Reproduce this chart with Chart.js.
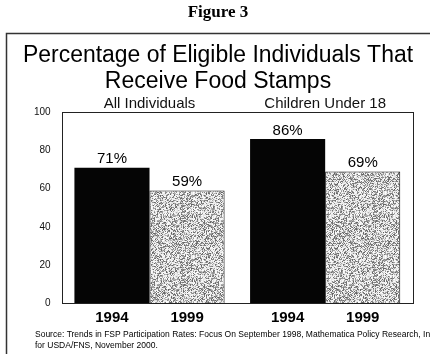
<!DOCTYPE html>
<html>
<head>
<meta charset="utf-8">
<script src="https://cdn.jsdelivr.net/npm/chart.js@4.4.1/dist/chart.umd.min.js"></script>
<style>
  body { margin: 0; background: #fff; }
  #wrap { width: 430px; height: 354px; position: relative; }
</style>
</head>
<body>
<div id="wrap"><canvas id="foodChart" width="430" height="354"></canvas></div>
<script>
// Dati
const groups = ['All Individuals', 'Children Under 18'];
const years = ['1994', '1999'];
const rate1994 = [71, 86];
const rate1999 = [59, 69];
const figureLabel = 'Figure 3';
const titleLines = ['Percentage of Eligible Individuals That', 'Receive Food Stamps'];
const sourceLines = [
    'Source: Trends in FSP Participation Rates: Focus On September 1998, Mathematica Policy Research, Inc',
    'for USDA/FNS, November 2000.'
];

// Texture puntinata per le barre 1999 (generatore deterministico)
function makeStipple() {
    const size = 64;
    const c = document.createElement('canvas');
    c.width = size; c.height = size;
    const g = c.getContext('2d');
    const img = g.createImageData(size, size);
    let seed = 12345;
    const rnd = () => { seed = (seed * 1103515245 + 12345) % 2147483648; return seed / 2147483648; };
    for (let i = 0; i < size * size; i++) {
        const v = rnd() < 0.45 ? 95 + rnd() * 90 : 220 + rnd() * 35;
        img.data[i * 4] = v; img.data[i * 4 + 1] = v; img.data[i * 4 + 2] = v; img.data[i * 4 + 3] = 255;
    }
    g.putImageData(img, 0, 0);
    return g.createPattern(c, 'repeat');
}

// Cornice esterna della figura e bordo dell'area del grafico
const framePlugin = {
    id: 'frame',
    beforeDraw(chart) {
        const ctx = chart.ctx;
        ctx.save();
        ctx.strokeStyle = '#333';
        ctx.lineWidth = 1.5;
        ctx.beginPath();
        ctx.moveTo(430, 33.5);
        ctx.lineTo(6.5, 33.5);
        ctx.lineTo(6.5, 354);
        ctx.stroke();
        ctx.restore();
    },
    afterDatasetsDraw(chart) {
        const { ctx, chartArea: a } = chart;
        ctx.save();
        ctx.strokeStyle = '#222';
        ctx.lineWidth = 1;
        ctx.strokeRect(Math.round(a.left) + 0.5, Math.round(a.top) + 0.5,
            Math.round(a.right - a.left), Math.round(a.bottom - a.top));
        ctx.restore();
    }
};

// Etichette: percentuali sopra le barre, anni sotto, fonte in basso
const labelsPlugin = {
    id: 'labels',
    afterDraw(chart) {
        const { ctx, chartArea: a } = chart;
        ctx.save();
        ctx.fillStyle = '#000';
        ctx.textAlign = 'center';
        chart.data.datasets.forEach((ds, di) => {
            const meta = chart.getDatasetMeta(di);
            meta.data.forEach((el, i) => {
                ctx.font = '15px Arial, "Liberation Sans"';
                ctx.textBaseline = 'bottom';
                ctx.fillText(ds.data[i] + '%', el.x, el.y - 1);
                ctx.font = 'bold 15px Arial, "Liberation Sans"';
                ctx.textBaseline = 'middle';
                ctx.fillText(years[di], el.x, a.bottom + 15);
            });
        });
        ctx.font = '8.5px Arial, "Liberation Sans"';
        ctx.textAlign = 'left';
        ctx.textBaseline = 'middle';
        ctx.fillText(sourceLines[0], 35, a.bottom + 32);
        ctx.fillText(sourceLines[1], 35, a.bottom + 43);
        ctx.restore();
    }
};

const ctx = document.getElementById('foodChart').getContext('2d');
new Chart(ctx, {
    type: 'bar',
    data: {
        labels: groups,
        datasets: [
            {
                label: years[0],
                data: rate1994,
                backgroundColor: '#050505',
                borderColor: '#000',
                borderWidth: 0,
                barPercentage: 1,
                categoryPercentage: 0.855
            },
            {
                label: years[1],
                data: rate1999,
                backgroundColor: makeStipple(),
                borderColor: '#111',
                borderWidth: 1,
                barPercentage: 1,
                categoryPercentage: 0.855
            }
        ]
    },
    options: {
        responsive: false,
        animation: false,
        layout: { padding: { left: 23, right: 17, top: 0, bottom: 51 } },
        scales: {
            x: {
                position: 'top',
                grid: { display: false, drawTicks: false },
                border: { display: false },
                ticks: { color: '#111', padding: 0, font: { family: 'Arial, "Liberation Sans"', size: 15 } }
            },
            y: {
                min: 0,
                max: 100,
                grid: { display: false, drawTicks: false },
                border: { display: false },
                ticks: { stepSize: 20, color: '#111', padding: 11, font: { family: 'Arial, "Liberation Sans"', size: 10 } }
            }
        },
        plugins: {
            legend: { display: false },
            tooltip: { enabled: false },
            title: {
                display: true,
                text: figureLabel,
                color: '#000',
                font: { family: '"Liberation Serif", "DejaVu Serif", serif', size: 17, weight: 'bold' },
                padding: { top: 2, bottom: 20 }
            },
            subtitle: {
                display: true,
                text: titleLines,
                color: '#000',
                font: { family: 'Arial, "Liberation Sans"', size: 23, lineHeight: 1.13 },
                padding: { top: 0, bottom: 0 }
            }
        }
    },
    plugins: [framePlugin, labelsPlugin]
});
</script>
</body>
</html>
